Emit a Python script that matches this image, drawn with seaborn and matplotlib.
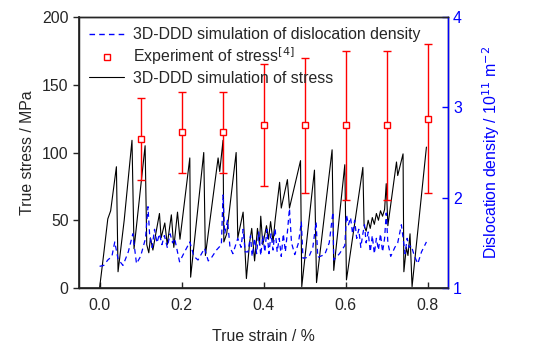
import matplotlib
matplotlib.use("Agg")
import matplotlib.pyplot as plt
import seaborn as sns
import pandas as pd
from matplotlib.lines import Line2D

# ---- data ----
stress_strain = [0.000, 0.010, 0.020, 0.027, 0.041, 0.045, 0.060, 0.079, 0.084, 0.095,
                 0.111, 0.115, 0.120, 0.124, 0.130, 0.137, 0.146, 0.150, 0.159, 0.165,
                 0.175, 0.181, 0.190, 0.196, 0.220, 0.222, 0.254, 0.258, 0.289, 0.293,
                 0.301, 0.303, 0.310, 0.333, 0.337, 0.350, 0.358, 0.366, 0.371, 0.378,
                 0.385, 0.390, 0.393, 0.398, 0.407, 0.412, 0.417, 0.423, 0.428, 0.439,
                 0.443, 0.458, 0.463, 0.490, 0.493, 0.524, 0.529, 0.567, 0.571, 0.598,
                 0.602, 0.642, 0.645, 0.650, 0.655, 0.660, 0.665, 0.670, 0.675, 0.680,
                 0.685, 0.690, 0.695, 0.699, 0.703, 0.724, 0.727, 0.740, 0.742, 0.748,
                 0.752, 0.757, 0.762, 0.797]
stress_val = [0, 25, 51, 57, 89.5, 12, 50, 109, 29, 60,
              105, 32, 26, 37, 28, 40, 55, 37, 48, 32,
              54, 30, 56, 36, 96, 8, 100, 24, 96, 86,
              109, 34, 40, 100, 37, 56, 7, 34, 44, 20,
              44, 32, 53, 32, 46, 36, 49, 34, 50, 78,
              59, 80, 59, 94, 1, 87, 4, 102, 13, 91,
              6, 89, 46, 42, 50, 44, 52, 47, 55, 50,
              57, 53, 58, 77, 46, 93, 83, 99, 12, 30,
              24, 40, 1, 104]

dens_strain = [0.000, 0.010, 0.020, 0.030, 0.037, 0.045, 0.057, 0.070, 0.081, 0.090,
               0.100, 0.112, 0.118, 0.122, 0.128, 0.134, 0.140, 0.146, 0.152, 0.158,
               0.165, 0.172, 0.178, 0.183, 0.195, 0.205, 0.220, 0.230, 0.240, 0.256,
               0.265, 0.272, 0.285, 0.297, 0.301, 0.305, 0.312, 0.318, 0.325, 0.337,
               0.345, 0.350, 0.355, 0.362, 0.368, 0.372, 0.378, 0.383, 0.388, 0.393,
               0.398, 0.403, 0.408, 0.413, 0.418, 0.423, 0.428, 0.433, 0.438, 0.443,
               0.448, 0.453, 0.458, 0.463, 0.468, 0.476, 0.485, 0.492, 0.496, 0.510,
               0.520, 0.528, 0.532, 0.549, 0.560, 0.569, 0.571, 0.585, 0.598, 0.602,
               0.607, 0.612, 0.617, 0.622, 0.627, 0.632, 0.637, 0.642, 0.646, 0.650,
               0.655, 0.660, 0.665, 0.670, 0.675, 0.680, 0.685, 0.690, 0.695, 0.699,
               0.703, 0.710, 0.720, 0.727, 0.736, 0.745, 0.750, 0.755, 0.760, 0.768,
               0.776, 0.785, 0.797]
dens_val = [1.24, 1.25, 1.31, 1.35, 1.51, 1.32, 1.25, 1.40, 1.60, 1.27,
            1.35, 1.55, 1.90, 1.59, 1.45, 1.65, 1.50, 1.60, 1.48, 1.58,
            1.45, 1.60, 1.50, 1.55, 1.29, 1.38, 1.51, 1.35, 1.31, 1.44,
            1.30, 1.33, 1.42, 1.48, 2.03, 1.60, 1.75, 1.45, 1.38, 1.55,
            1.45, 1.65, 1.40, 1.40, 1.58, 1.35, 1.55, 1.38, 1.62, 1.36,
            1.58, 1.40, 1.65, 1.38, 1.60, 1.42, 1.66, 1.40, 1.55, 1.35,
            1.60, 1.40, 1.62, 1.88, 1.50, 1.37, 1.50, 1.73, 1.33, 1.34,
            1.45, 1.73, 1.34, 1.37, 1.50, 1.84, 1.31, 1.38, 1.47, 1.81,
            1.70, 1.78, 1.60, 1.75, 1.55, 1.65, 1.45, 1.60, 1.70, 1.50,
            1.62, 1.40, 1.58, 1.38, 1.55, 1.42, 1.60, 1.40, 1.55, 1.83,
            1.50, 1.35, 1.45, 1.50, 1.70, 1.38, 1.55, 1.45, 1.47, 1.35,
            1.27, 1.40, 1.51]

exp_strain = [0.1, 0.2, 0.3, 0.4, 0.5, 0.6, 0.7, 0.8]
exp_stress = [110, 115, 115, 120, 120, 120, 120, 125]
exp_low = [80, 85, 85, 75, 70, 65, 65, 70]
exp_high = [140, 145, 145, 165, 170, 175, 175, 180]

x_ticks = [0.0, 0.2, 0.4, 0.6, 0.8]
y_ticks = [0, 50, 100, 150, 200]
y2_ticks = [1, 2, 3, 4]

# ---- plotting ----
FS = 11.4
sns.set_theme(style="ticks")
plt.rcParams['font.family'] = ['Liberation Sans', 'DejaVu Sans']
plt.rcParams['font.size'] = FS

fig = plt.figure(figsize=(5.38, 3.58), dpi=100)
ax = fig.add_axes([0.147, 0.1955, 0.686, 0.757])
ax2 = ax.twinx()

df_s = pd.DataFrame({"strain": stress_strain, "stress": stress_val})
df_d = pd.DataFrame({"strain": dens_strain, "dens": dens_val})

sns.lineplot(data=df_d, x="strain", y="dens", ax=ax2, sort=False, estimator=None,
             color="blue", lw=0.9, legend=False)
ax2.lines[0].set_linestyle((0, (4, 3)))

sns.lineplot(data=df_s, x="strain", y="stress", ax=ax, sort=False, estimator=None,
             color="black", lw=0.8, legend=False)

yerr = [[m - l for m, l in zip(exp_stress, exp_low)],
        [h - m for m, h in zip(exp_stress, exp_high)]]
ax.errorbar(exp_strain, exp_stress, yerr=yerr, fmt='s', color='red', mfc='white',
            mec='red', ms=4.5, mew=1.0, elinewidth=1.0, capsize=3, capthick=1.0, zorder=5)

ax.set_xlim(-0.05, 0.85)
ax.set_ylim(0, 200)
ax2.set_ylim(1, 4)
ax.set_xticks(x_ticks)
ax.set_xticklabels([f"{v:.1f}" for v in x_ticks])
ax.set_yticks(y_ticks)
ax2.set_yticks(y2_ticks)

ax.set_xlabel("True strain / %", fontsize=FS, labelpad=12)
ax.set_ylabel("True stress / MPa", fontsize=FS, labelpad=5)
ax2.set_ylabel("Dislocation density / 10$^{11}$ m$^{-2}$", fontsize=FS, color="blue", labelpad=13)

ax.tick_params(axis='x', direction='in', length=4, width=1, labelsize=FS, pad=7)
ax.tick_params(axis='y', direction='out', length=4, width=1, labelsize=FS)
ax2.tick_params(axis='y', direction='in', length=4, width=1, labelsize=FS, colors='blue')
for s in ax.spines.values():
    s.set_linewidth(1)
    s.set_color('black')
ax2.spines['right'].set_color('blue')
ax2.spines['right'].set_linewidth(1)
ax2.spines['top'].set_linewidth(1)

handles = [
    Line2D([], [], color='blue', lw=1, linestyle=(0, (4, 3))),
    Line2D([], [], color='red', marker='s', mfc='white', mec='red', ms=4.5, lw=0),
    Line2D([], [], color='black', lw=0.8),
]
labels = ["3D-DDD simulation of dislocation density",
          "Experiment of stress$^{[4]}$",
          "3D-DDD simulation of stress"]
ax2.legend(handles, labels, loc='upper left', bbox_to_anchor=(0.0, 1.0), frameon=False,
           fontsize=FS, handlelength=2.2, handletextpad=0.55, labelspacing=0.22,
           borderaxespad=0.25)

fig.savefig("out.png", dpi=100)
